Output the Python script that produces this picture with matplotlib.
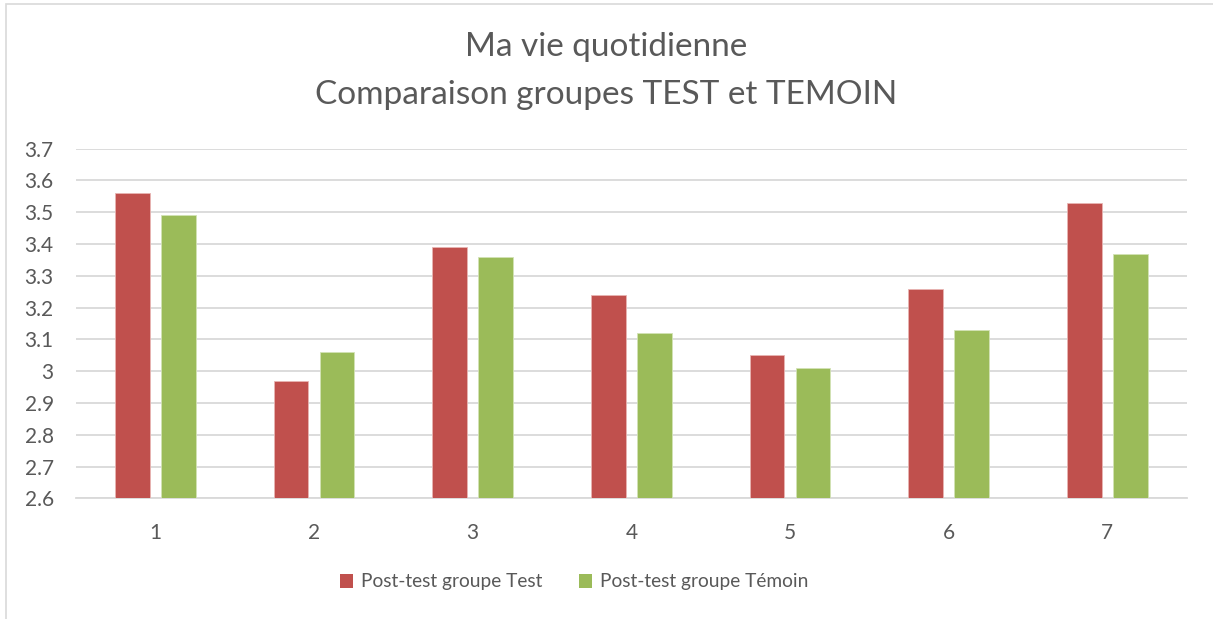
import matplotlib
matplotlib.use("Agg")
import matplotlib.pyplot as plt
import numpy as np
from matplotlib.patches import Rectangle

categories = ["1", "2", "3", "4", "5", "6", "7"]
post_test_groupe_test = [3.56, 2.97, 3.39, 3.24, 3.05, 3.26, 3.53]
post_test_groupe_temoin = [3.49, 3.06, 3.36, 3.12, 3.01, 3.13, 3.37]
series_labels = ["Post-test groupe Test", "Post-test groupe Témoin"]
yticks = [2.6, 2.7, 2.8, 2.9, 3.0, 3.1, 3.2, 3.3, 3.4, 3.5, 3.6, 3.7]
ytick_labels = ["2.6", "2.7", "2.8", "2.9", "3", "3.1", "3.2", "3.3", "3.4", "3.5", "3.6", "3.7"]
title_lines = ["Ma vie quotidienne", "Comparaison groupes TEST et TEMOIN"]

TEXT = "#595959"
RED = "#C0504D"
GREEN = "#9BBB59"
GRID = "#D9D9D9"

plt.rcParams["font.family"] = ["Lato", "DejaVu Sans"]

W, H = 1213, 619
fig = plt.figure(figsize=(W / 100, H / 100), dpi=100)

# chart border
fig.patches.append(Rectangle((6 / W, -0.01), 1.2, (H - 4) / H + 0.01,
                             transform=fig.transFigure, fill=False,
                             edgecolor="#D9D9D9", linewidth=1.2))

ax = fig.add_axes([76 / W, 1 - 498.3 / H, (1186.7 - 76) / W, (498.3 - 148.7) / H])

x = np.arange(len(categories))
bw = 0.22
off = 0.145
ax.bar(x - off, post_test_groupe_test, bw, bottom=0, color=RED,
       edgecolor="#E8B5B3", linewidth=0.6, label=series_labels[0], zorder=3)
ax.bar(x + off, post_test_groupe_temoin, bw, bottom=0, color=GREEN,
       edgecolor="#D2E2B5", linewidth=0.6, label=series_labels[1], zorder=3)

ax.set_ylim(2.6, 3.7)
ax.set_xlim(-0.5, len(categories) - 0.5)
ax.set_yticks(yticks)
ax.set_yticklabels(ytick_labels)
ax.set_xticks(x)
ax.set_xticklabels(categories)
ax.tick_params(axis="both", length=0, colors=TEXT, labelsize=15)
ax.tick_params(axis="x", pad=18)
ax.tick_params(axis="y", pad=16)
for lab in ax.get_yticklabels():
    lab.set_horizontalalignment("right")

ax.yaxis.grid(True, color=GRID, linewidth=1.3, zorder=0)
ax.set_axisbelow(True)
for s in ["top", "right", "left"]:
    ax.spines[s].set_visible(False)
ax.spines["bottom"].set_color(GRID)
ax.spines["bottom"].set_linewidth(1.3)

fig.text(0.5, 1 - 47 / H, title_lines[0], ha="center", va="center",
         fontsize=24, color=TEXT)
fig.text(0.5, 1 - 95 / H, title_lines[1], ha="center", va="center",
         fontsize=24, color=TEXT)

leg = fig.legend(loc="center", bbox_to_anchor=(574 / W, 1 - 582 / H), ncol=2,
                 frameon=False, fontsize=13.8, labelcolor=TEXT,
                 handlelength=0.7, handleheight=0.7, handletextpad=0.4,
                 columnspacing=1.9)
for h in leg.legend_handles:
    h.set_edgecolor("none")

fig.savefig("out.png", dpi=100, facecolor="white")
